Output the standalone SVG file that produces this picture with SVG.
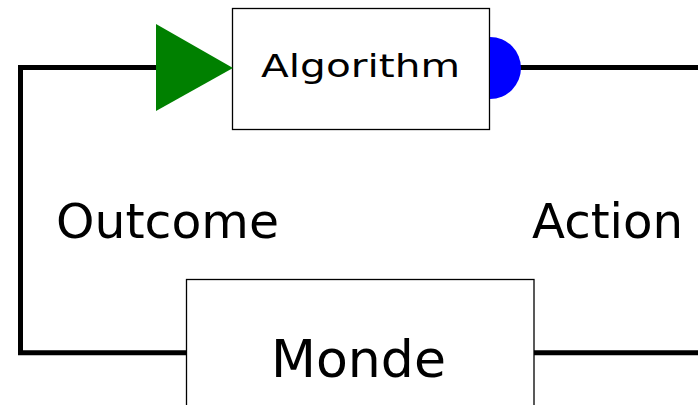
<svg xmlns="http://www.w3.org/2000/svg" width="698" height="405" viewBox="0 0 698 405">
<style>
.box{fill:#fff;stroke:#000;stroke-width:1.3}
.wire{fill:none;stroke:#000;stroke-width:5;stroke-linejoin:miter}
.lbl{font-family:"DejaVu Sans","Liberation Sans",sans-serif;fill:#000}
</style>
<rect width="698" height="405" fill="#fff"/>
<g id="connectors">
<path class="wire" d="M156 67.5 H20.5 V352.8 H186.5"/>
<path class="wire" d="M520 67.5 H698"/>
<path class="wire" d="M534 352.8 H698"/>
</g>
<g id="algorithm">
<rect class="box" x="232.5" y="8.5" width="257" height="121"/>
<text class="lbl" x="261" y="77" font-size="32" textLength="199" lengthAdjust="spacingAndGlyphs">Algorithm</text>
</g>
<g id="input-port">
<polygon points="156,24 233,68 156,111" fill="#008000"/>
</g>
<g id="output-port">
<path d="M490 37 A31 31 0 0 1 490 99 Z" fill="#0000ff"/>
</g>
<g id="monde">
<rect class="box" x="186.5" y="279.5" width="347.5" height="140"/>
<text class="lbl" x="271" y="377" font-size="51" textLength="175" lengthAdjust="spacingAndGlyphs">Monde</text>
</g>
<g id="label-outcome">
<text class="lbl" x="56" y="237.5" font-size="48" textLength="223" lengthAdjust="spacingAndGlyphs">Outcome</text>
</g>
<g id="label-action">
<text class="lbl" x="532" y="237.5" font-size="48" textLength="151" lengthAdjust="spacingAndGlyphs">Action</text>
</g>
</svg>
